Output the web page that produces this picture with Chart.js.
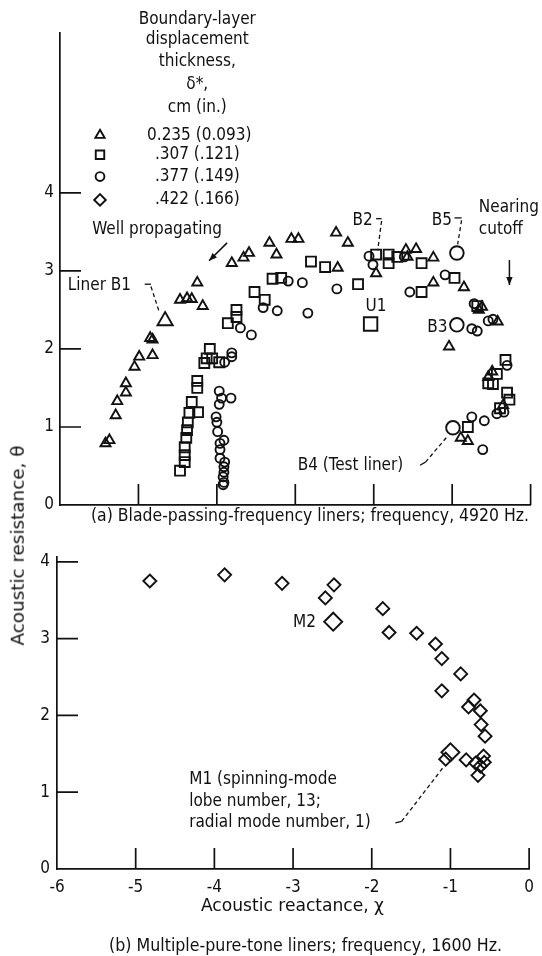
<!DOCTYPE html>
<html>
<head>
<meta charset="utf-8">
<script src="https://cdn.jsdelivr.net/npm/chart.js@4.4.1/dist/chart.umd.min.js"></script>
<style>
  body { margin: 0; background: #fff; }
  #wrap { position: relative; width: 542px; height: 956px; overflow: hidden;
          font-family: "DejaVu Sans Condensed", "DejaVu Sans", sans-serif; color: #111; }
  #top { position: absolute; left: 0; top: 0; }
  #bot { position: absolute; left: 0; top: 540px; }
  .txt { position: absolute; font-size: 17px; white-space: nowrap; line-height: 1; transform-origin: 0 50%; }
</style>
</head>
<body>
<div id="wrap">
  <canvas id="top" width="542" height="540"></canvas>
  <canvas id="bot" width="542" height="416"></canvas>
  <div class="txt fit" data-w="438" style="left:91px; top:507px;">(a) Blade-passing-frequency liners; frequency, 4920 Hz.</div>
  <div class="txt fit" data-w="183" style="left:201px; top:897px;">Acoustic reactance, χ</div>
  <div class="txt fit" data-w="393" style="left:109px; top:937px;">(b) Multiple-pure-tone liners; frequency, 1600 Hz.</div>
  <div class="txt" id="ytitle" style="left:18px; top:545px; transform-origin:50% 50%;">Acoustic resistance, θ</div>
</div>
<script>
const INK = '#111';
const FONT = '"DejaVu Sans Condensed", "DejaVu Sans", sans-serif';

// axes
const xTicks = [-6, -5, -4, -3, -2, -1, 0];
const yTicksA = [0, 1, 2, 3, 4];
const yTicksB = [0, 1, 2, 3, 4];

// legend: boundary-layer displacement thickness, cm (in.)
const legendLabels = ['0.235 (0.093)', '.307 (.121)', '.377 (.149)', '.422 (.166)'];

// (a) blade-passing-frequency liners, 4920 Hz  [reactance, resistance]
const tri235 = [[-5.42,0.79],[-5.37,0.83],[-5.29,1.15],[-5.27,1.33],[-5.16,1.44],[-5.16,1.56],
  [-5.05,1.77],[-4.99,1.90],[-4.82,1.92],[-4.85,2.14],[-4.82,2.12],[-4.47,2.63],[-4.38,2.65],
  [-4.32,2.64],[-4.25,2.85],[-4.18,2.55],[-3.81,3.10],[-3.66,3.17],[-3.59,3.23],[-3.33,3.36],
  [-3.24,3.21],[-3.05,3.41],[-2.96,3.41],[-2.48,3.49],[-2.33,3.36],[-2.46,3.04],[-1.97,2.97],
  [-1.59,3.27],[-1.46,3.28],[-1.57,3.18],[-1.24,3.17],[-1.24,2.85],[-0.85,2.79],[-0.66,2.50],
  [-0.62,2.54],[-0.42,2.35],[-1.04,2.03],[-0.49,1.71],[-0.54,1.64],[-0.35,1.28],[-0.89,0.86],
  [-0.80,0.82]];
const sq307 = [[-4.47,0.44],[-4.41,0.55],[-4.41,0.64],[-4.41,0.74],[-4.39,0.86],[-4.38,0.96],
  [-4.37,1.06],[-4.35,1.18],[-4.24,1.19],[-4.32,1.32],[-4.25,1.50],[-4.25,1.59],[-4.16,1.82],
  [-4.13,1.88],[-4.06,1.88],[-3.97,1.83],[-4.09,2.00],[-3.86,2.33],[-3.75,2.41],[-3.75,2.50],
  [-3.52,2.73],[-3.39,2.63],[-3.29,2.90],[-3.18,2.91],[-2.80,3.12],[-2.62,3.05],[-2.20,2.83],
  [-1.97,3.21],[-1.81,3.21],[-1.81,3.10],[-1.70,3.18],[-1.39,3.10],[-1.39,2.73],[-0.97,2.91],
  [-0.68,2.55],[-0.32,1.86],[-0.54,1.56],[-0.48,1.55],[-0.43,1.68],[-0.30,1.44],[-0.27,1.35],
  [-0.39,1.24],[-0.80,1.00]];
const circ377 = [[-3.92,0.26],[-3.91,0.29],[-3.92,0.36],[-3.91,0.42],[-3.91,0.49],[-3.90,0.55],
  [-3.96,0.60],[-3.96,0.71],[-3.96,0.79],[-3.91,0.83],[-3.99,0.94],[-4.00,1.06],[-4.01,1.13],
  [-3.97,1.29],[-3.94,1.37],[-3.82,1.37],[-3.97,1.46],[-3.90,1.83],[-3.81,1.90],[-3.81,1.95],
  [-3.70,2.27],[-3.56,2.18],[-3.41,2.53],[-3.23,2.49],[-3.09,2.87],[-2.91,2.85],[-2.84,2.46],
  [-2.47,2.77],[-2.06,3.19],[-2.01,3.08],[-1.61,3.18],[-1.54,2.73],[-1.09,2.95],[-0.72,2.58],
  [-0.75,2.26],[-0.68,2.23],[-0.54,2.36],[-0.48,2.38],[-0.30,1.79],[-0.43,1.17],[-0.59,1.08],
  [-0.75,1.13],[-0.61,0.71],[-0.34,1.19]];
// labelled liners (drawn larger)
const linerB1 = [[-4.66,2.36]];
const linerU1 = [[-2.04,2.32]];
const linersB5B3B4 = [[-0.94,3.23],[-0.94,2.31],[-0.99,0.99]];

// (b) multiple-pure-tone liners, 1600 Hz
const diam422 = [[-4.82,3.75],[-3.87,3.83],[-3.14,3.72],[-2.48,3.70],[-2.59,3.53],[-1.86,3.39],
  [-1.78,3.08],[-1.43,3.07],[-1.19,2.93],[-1.11,2.74],[-0.87,2.54],[-1.11,2.32],[-0.70,2.20],
  [-0.77,2.11],[-0.62,2.06],[-0.61,1.88],[-0.56,1.73],[-1.06,1.43],[-0.80,1.42],[-0.68,1.38],
  [-0.58,1.47],[-0.57,1.39],[-0.62,1.34],[-0.65,1.22]];
const linersM2M1 = [[-2.49,3.22],[-1.00,1.52]];

const pts = arr => arr.map(([x, y]) => ({ x, y }));

function series(data, style, r) {
  return {
    data: pts(data), pointStyle: style, pointRadius: r, pointHoverRadius: r,
    borderColor: INK, backgroundColor: 'rgba(255,255,255,0)', pointBorderWidth: 1.9,
    showLine: false, clip: false
  };
}

function arrowHead(ctx, x1, y1, x2, y2) {
  const a = Math.atan2(y2 - y1, x2 - x1), L = 8, W = 3.2;
  ctx.beginPath();
  ctx.moveTo(x2, y2);
  ctx.lineTo(x2 - L * Math.cos(a) + W * Math.sin(a), y2 - L * Math.sin(a) - W * Math.cos(a));
  ctx.lineTo(x2 - L * Math.cos(a) - W * Math.sin(a), y2 - L * Math.sin(a) + W * Math.cos(a));
  ctx.closePath();
  ctx.fill();
}

// inward tick marks
const inwardTicks = {
  id: 'inwardTicks',
  beforeDatasetsDraw(chart) {
    const { ctx, chartArea: a, scales: { x, y } } = chart;
    ctx.save();
    ctx.strokeStyle = INK;
    ctx.lineWidth = 1.7;
    ctx.beginPath();
    x.ticks.forEach(t => {
      if (t.value === x.min) return;
      const p = x.getPixelForValue(t.value);
      ctx.moveTo(p, a.bottom); ctx.lineTo(p, a.bottom - 21);
    });
    y.ticks.forEach(t => {
      if (t.value === 0) return;
      const p = y.getPixelForValue(t.value);
      ctx.moveTo(a.left, p); ctx.lineTo(a.left + 21, p);
    });
    ctx.stroke();
    ctx.restore();
  }
};

// text notes, leaders and arrows in data coordinates
function notes(items) {
  return {
    id: 'notes',
    afterDatasetsDraw(chart) {
      const { ctx, scales: { x, y } } = chart;
      const X = v => x.getPixelForValue(v), Y = v => y.getPixelForValue(v);
      ctx.save();
      ctx.fillStyle = INK;
      ctx.strokeStyle = INK;
      ctx.font = '17px ' + FONT;
      ctx.textBaseline = 'middle';
      items.forEach(it => {
        if (it.text) {
          ctx.textAlign = it.align || 'left';
          ctx.fillText(it.text, X(it.x), Y(it.y));
        }
        if (it.line) {
          ctx.lineWidth = 1.3;
          ctx.setLineDash(it.dash ? [4, 3] : []);
          ctx.beginPath();
          it.line.forEach(([px, py], i) => i ? ctx.lineTo(X(px), Y(py)) : ctx.moveTo(X(px), Y(py)));
          ctx.stroke();
          ctx.setLineDash([]);
        }
        if (it.arrow) {
          const [[ax, ay], [bx, by]] = it.arrow;
          ctx.lineWidth = 1.5;
          ctx.beginPath();
          ctx.moveTo(X(ax), Y(ay)); ctx.lineTo(X(bx), Y(by));
          ctx.stroke();
          arrowHead(ctx, X(ax), Y(ay), X(bx), Y(by));
        }
        if (it.mark) {
          ctx.lineWidth = 1.9;
          ctx.fillStyle = 'rgba(255,255,255,0)';
          Chart.helpers.drawPoint(ctx, { pointStyle: it.mark, radius: it.r, borderWidth: 1.9, rotation: 0 }, X(it.x), Y(it.y));
          ctx.fillStyle = INK;
        }
      });
      ctx.restore();
    }
  };
}

function axes(yTicks, yMax, yPad, xLabels, leftW, bottomH) {
  return {
    x: {
      type: 'linear', min: -6, max: 0,
      afterBuildTicks: s => { s.ticks = xTicks.map(v => ({ value: v })); },
      afterFit: s => { s.height = bottomH; },
      ticks: { display: xLabels, color: INK, font: { family: FONT, size: 17 }, padding: 8, maxRotation: 0 },
      grid: { display: false, drawTicks: false },
      border: { color: INK, width: 1.7 }
    },
    y: {
      type: 'linear', min: 0, max: yMax,
      afterBuildTicks: s => { s.ticks = yTicks.map(v => ({ value: v })); },
      afterFit: s => { s.width = leftW; },
      ticks: { color: INK, font: { family: FONT, size: 17 }, padding: yPad },
      grid: { display: false, drawTicks: false },
      border: { color: INK, width: 1.7 }
    }
  };
}

const common = {
  responsive: false, animation: false, events: [],
  plugins: { legend: { display: false }, tooltip: { enabled: false } }
};

// legend block drawn inside panel (a)
const topNotes = [
  { text: 'Boundary-layer', x: -4.25, y: 6.22, align: 'center' },
  { text: 'displacement', x: -4.25, y: 5.96, align: 'center' },
  { text: 'thickness,', x: -4.25, y: 5.68, align: 'center' },
  { text: 'δ*,', x: -4.25, y: 5.39, align: 'center' },
  { text: 'cm (in.)', x: -4.25, y: 5.10, align: 'center' },
  { mark: 'triangle', r: 5.4, x: -5.49, y: 4.74 }, { text: legendLabels[0], x: -4.89, y: 4.74 },
  { mark: 'rect', r: 6, x: -5.49, y: 4.49 }, { text: legendLabels[1], x: -4.79, y: 4.49 },
  { mark: 'circle', r: 4.4, x: -5.49, y: 4.21 }, { text: legendLabels[2], x: -4.79, y: 4.21 },
  { mark: 'rectRot', r: 5.8, x: -5.49, y: 3.91 }, { text: legendLabels[3], x: -4.79, y: 3.91 },
  { text: 'Well propagating', x: -5.59, y: 3.53 },
  { arrow: [[-3.87, 3.36], [-4.10, 3.13]] },
  { text: 'Liner B1', x: -5.90, y: 2.81 },
  { line: [[-4.92, 2.83], [-4.84, 2.83]] },
  { line: [[-4.84, 2.80], [-4.73, 2.46]], dash: true },
  { text: 'B2', x: -2.27, y: 3.65 },
  { line: [[-1.97, 3.67], [-1.90, 3.67]] },
  { line: [[-1.90, 3.64], [-1.95, 3.26]], dash: true },
  { text: 'B5', x: -1.26, y: 3.65 },
  { line: [[-0.97, 3.68], [-0.88, 3.68]] },
  { line: [[-0.88, 3.65], [-0.93, 3.34]], dash: true },
  { text: 'Nearing', x: -0.66, y: 3.81 },
  { text: 'cutoff', x: -0.66, y: 3.53 },
  { arrow: [[-0.27, 3.14], [-0.27, 2.82]] },
  { text: 'U1', x: -1.97, y: 2.54, align: 'center' },
  { text: 'B3', x: -1.06, y: 2.28, align: 'right' },
  { text: 'B4 (Test liner)', x: -2.97, y: 0.51 },
  { line: [[-1.41, 0.51], [-1.34, 0.55]] },
  { line: [[-1.34, 0.55], [-1.06, 0.88]], dash: true }
];

const botNotes = [
  { text: 'M2', x: -2.71, y: 3.21, align: 'right' },
  { text: 'M1 (spinning-mode', x: -4.32, y: 1.16 },
  { text: 'lobe number, 13;', x: -4.32, y: 0.88 },
  { text: 'radial mode number, 1)', x: -4.32, y: 0.60 },
  { line: [[-1.70, 0.60], [-1.62, 0.62]] },
  { line: [[-1.62, 0.62], [-1.08, 1.34]], dash: true }
];

new Chart(document.getElementById('top'), {
  type: 'scatter',
  data: {
    datasets: [
      series(tri235, 'triangle', 5.8),
      series(sq307, 'rect', 7),
      series(circ377, 'circle', 4.5),
      series(linerB1, 'triangle', 8.8),
      series(linerU1, 'rect', 9.5),
      series(linersB5B3B4, 'circle', 6.8)
    ]
  },
  options: {
    ...common,
    layout: { padding: { left: 0, right: 11, top: 33, bottom: 0 } },
    scales: axes(yTicksA, 6.05, 6, false, 60, 35)
  },
  plugins: [inwardTicks, notes(topNotes)]
});

new Chart(document.getElementById('bot'), {
  type: 'scatter',
  data: {
    datasets: [
      series(diam422, 'rectRot', 6.5),
      series(linersM2M1, 'rectRot', 9)
    ]
  },
  options: {
    ...common,
    layout: { padding: { left: 0, right: 11, top: 16, bottom: 0 } },
    scales: axes(yTicksB, 4.06, 7, true, 57, 87)
  },
  plugins: [inwardTicks, notes(botNotes)]
});

// stretch the html captions to the widths they take in the figure
document.querySelectorAll('.fit').forEach(el => {
  const w = el.getBoundingClientRect().width;
  el.style.transform = 'scaleX(' + (el.dataset.w / w) + ')';
});
const yt = document.getElementById('ytitle');
const r = yt.getBoundingClientRect();
yt.style.left = (18 - r.width / 2) + 'px';
yt.style.top = (545 - r.height / 2) + 'px';
yt.style.transform = 'rotate(-90deg) scaleX(' + (200 / r.width) + ')';
</script>
</body>
</html>
